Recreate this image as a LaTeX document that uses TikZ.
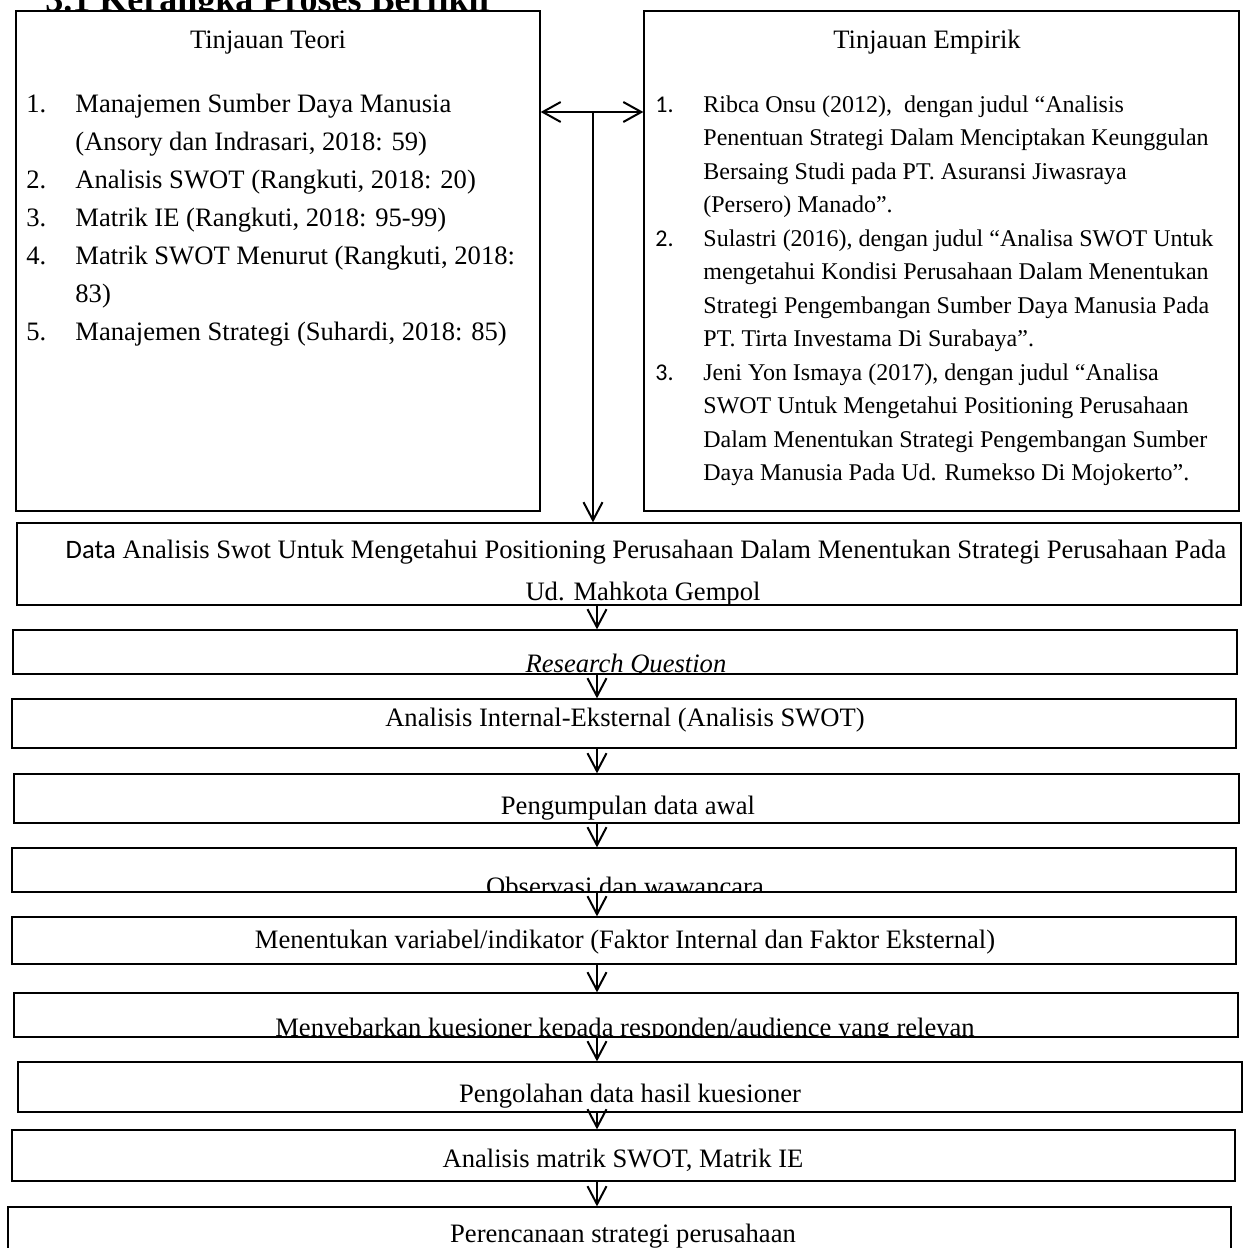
\documentclass[tikz,border=0pt]{standalone}
\usepackage{fontspec}
\setmainfont{Liberation Serif}
\newfontfamily\calib{Carlito}
\usetikzlibrary{arrows.meta,fit}

\begin{document}
\begin{tikzpicture}[x=0.5pt,y=-0.5pt,
  frame/.style={draw=black, line width=0.65pt, inner sep=0pt},
  flow/.style={line width=1pt, -{Straight Barb[length=9pt,width=9.5pt,line width=1pt]}},
  both/.style={line width=1pt, {Straight Barb[length=9pt,width=10pt,line width=1pt]}-{Straight Barb[length=9pt,width=10pt,line width=1pt]}},
  big/.style={inner sep=0pt, font=\fontsize{13.3}{18.5}\selectfont},
  small/.style={inner sep=0pt, font=\fontsize{12}{16.8}\selectfont},
  lline/.style={big, anchor=base west},
  rline/.style={small, anchor=base west},
  ctext/.style={big, anchor=base}
]
\useasboundingbox (0,0) rectangle (1246,1248);
\clip (0,0) rectangle (1246,1248);

% heading, cut by the top edge
\node[anchor=base west, inner sep=0pt, font=\bfseries\fontsize{18}{21}\selectfont] (judul) at (45,11) {3.1 Kerangka Proses Berfikir};

% the two review boxes
\node[frame, fill=white, fit={(16,11) (540,511)}] (teori) {};
\node[frame, fill=white, fit={(644,11) (1239,511)}] (empirik) {};

\node[ctext] (teoriT) at (268,48) {Tinjauan Teori};
\node[ctext] (empirikT) at (927,48) {Tinjauan Empirik};

% theory list
\node[lline] (n1) at (26,112) {1.};
\node[lline] (l1) at (75,112) {Manajemen Sumber Daya Manusia};
\node[lline] (l2) at (75,150) {(Ansory dan Indrasari, 2018: 59)};
\node[lline] (n2) at (26,188) {2.};
\node[lline] (l3) at (75,188) {Analisis SWOT (Rangkuti, 2018: 20)};
\node[lline] (n3) at (26,226) {3.};
\node[lline] (l4) at (75,226) {Matrik IE (Rangkuti, 2018: 95-99)};
\node[lline] (n4) at (26,264) {4.};
\node[lline] (l5) at (75,264) {Matrik SWOT Menurut (Rangkuti, 2018:};
\node[lline] (l6) at (75,302) {83)};
\node[lline] (n5) at (26,340) {5.};
\node[lline] (l7) at (75,340) {Manajemen Strategi (Suhardi, 2018: 85)};

% empirical list
\node[rline, font=\calib\fontsize{12}{16.8}\selectfont] (m1) at (655,112) {1.};
\node[rline] (r1) at (703,112) {Ribca Onsu (2012), \ dengan judul “Analisis};
\node[rline] (r2) at (703,145.5) {Penentuan Strategi Dalam Menciptakan Keunggulan};
\node[rline] (r3) at (703,179) {Bersaing Studi pada PT. Asuransi Jiwasraya};
\node[rline] (r4) at (703,212.5) {(Persero) Manado”.};
\node[rline, font=\calib\fontsize{12}{16.8}\selectfont] (m2) at (655,246) {2.};
\node[rline] (r5) at (703,246) {Sulastri (2016), dengan judul “Analisa SWOT Untuk};
\node[rline] (r6) at (703,279.5) {mengetahui Kondisi Perusahaan Dalam Menentukan};
\node[rline] (r7) at (703,313) {Strategi Pengembangan Sumber Daya Manusia Pada};
\node[rline] (r8) at (703,346.5) {PT. Tirta Investama Di Surabaya”.};
\node[rline, font=\calib\fontsize{12}{16.8}\selectfont] (m3) at (655,380) {3.};
\node[rline] (r9) at (703,380) {Jeni Yon Ismaya (2017), dengan judul “Analisa};
\node[rline] (r10) at (703,413.5) {SWOT Untuk Mengetahui Positioning Perusahaan};
\node[rline] (r11) at (703,447) {Dalam Menentukan Strategi Pengembangan Sumber};
\node[rline] (r12) at (703,480.5) {Daya Manusia Pada Ud. Rumekso Di Mojokerto”.};

% the process chain
\node[frame, fit={(17,523) (1241,605)}] (data) {};
\node[frame, fit={(13,630) (1237,674)}] (rq) {};
\node[frame, fit={(12,699) (1236,748)}] (ai) {};
\node[frame, fit={(14,774) (1239,823)}] (kumpul) {};
\node[frame, fit={(12,848) (1236,892)}] (obs) {};
\node[frame, fit={(12,917) (1236,964)}] (var) {};
\node[frame, fit={(14,993) (1238,1037)}] (sebar) {};
\node[frame, fit={(18,1062) (1242,1112)}] (olah) {};
\node[frame, fit={(12,1130) (1235,1181)}] (matrik) {};
\node[frame, fit={(8,1207) (1231,1262)}] (rencana) {};

% texts, each cut to its own box
\begin{scope}
  \clip (data.south west) rectangle (data.north east);
  \node[ctext] (dataT1) at (646,558) {{\calib Data} Analisis Swot Untuk Mengetahui Positioning Perusahaan Dalam Menentukan Strategi Perusahaan Pada};
  \node[ctext] (dataT2) at (643,600) {Ud. Mahkota Gempol};
\end{scope}
\begin{scope}
  \clip (rq.south west) rectangle (rq.north east);
  \node[ctext] (rqT) at (626,672) {\itshape Research Question};
\end{scope}
\begin{scope}
  \clip (ai.south west) rectangle (ai.north east);
  \node[ctext] (aiT) at (625,726) {Analisis Internal-Eksternal (Analisis SWOT)};
\end{scope}
\begin{scope}
  \clip (kumpul.south west) rectangle (kumpul.north east);
  \node[ctext] (kumpulT) at (628,814) {Pengumpulan data awal};
\end{scope}
\begin{scope}
  \clip (obs.south west) rectangle (obs.north east);
  \node[ctext] (obsT) at (625,895) {Observasi dan wawancara};
\end{scope}
\begin{scope}
  \clip (var.south west) rectangle (var.north east);
  \node[ctext] (varT) at (625,948) {Menentukan variabel/indikator (Faktor Internal dan Faktor Eksternal)};
\end{scope}
\begin{scope}
  \clip (sebar.south west) rectangle (sebar.north east);
  \node[ctext] (sebarT) at (625,1036) {Menyebarkan kuesioner kepada responden/audience yang relevan};
\end{scope}
\begin{scope}
  \clip (olah.south west) rectangle (olah.north east);
  \node[ctext] (olahT) at (630,1102) {Pengolahan data hasil kuesioner};
\end{scope}
\begin{scope}
  \clip (matrik.south west) rectangle (matrik.north east);
  \node[ctext] (matrikT) at (623,1167) {Analisis matrik SWOT, Matrik IE};
\end{scope}
\begin{scope}
  \clip (rencana.south west) rectangle (rencana.north east);
  \node[ctext] (rencanaT) at (623,1242) {Perencanaan strategi perusahaan};
\end{scope}

% connectors
\coordinate (hy) at (0,112);
\coordinate (vx) at (593,0);
\coordinate (ax) at (597,0);
\draw[both] (teori.east |- hy) -- (empirik.west |- hy);
\draw[flow] (hy -| vx) -- (data.north -| vx);
\draw[flow] (data.south -| ax) -- (rq.north -| ax);
\draw[flow] (rq.south -| ax) -- (ai.north -| ax);
\draw[flow] (ai.south -| ax) -- (kumpul.north -| ax);
\draw[flow] (kumpul.south -| ax) -- (obs.north -| ax);
\draw[flow] (obs.south -| ax) -- (var.north -| ax);
\draw[flow] (var.south -| ax) -- (sebar.north -| ax);
\draw[flow] (sebar.south -| ax) -- (olah.north -| ax);
\draw[flow] (olah.south -| ax) -- (matrik.north -| ax);
\draw[flow] (matrik.south -| ax) -- (rencana.north -| ax);
\end{tikzpicture}
\end{document}
